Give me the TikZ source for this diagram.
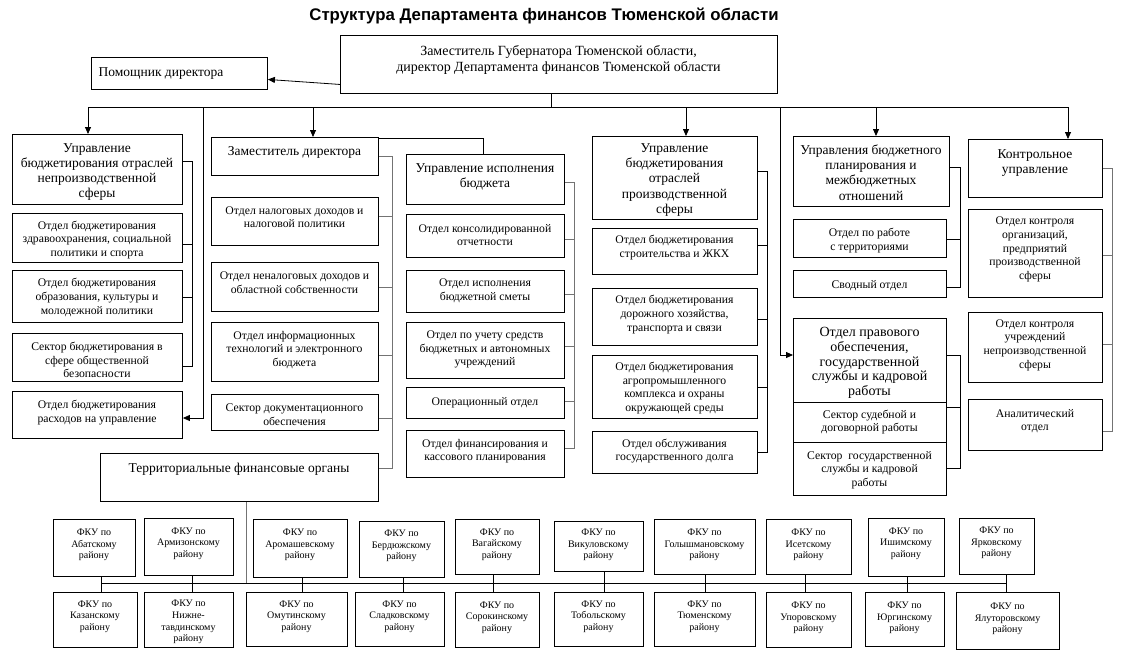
\documentclass[tikz,border=0pt]{standalone}
\usepackage{fontspec}
\setmainfont{Liberation Serif}
\setsansfont{Liberation Sans}
\usetikzlibrary{arrows.meta}
\tikzset{
  box/.style={draw, line width=0.9pt, inner sep=0pt},
  ln/.style={line width=0.8pt},
  gln/.style={line width=0.8pt, draw=black!55},
  arr/.style={line width=0.8pt, -{Triangle[length=7pt,width=6pt]}},
  tx/.style={align=center, inner sep=0pt, yshift=-2pt},
  hd/.style={tx, font=\fontsize{13.5}{15.2}\selectfont},
  dr/.style={tx, font=\fontsize{14}{16}\selectfont},
  pv/.style={tx, font=\fontsize{14}{14.6}\selectfont},
  sm/.style={tx, font=\fontsize{11.7}{13.6}\selectfont, yshift=0.5pt},
  fk/.style={tx, font=\fontsize{10}{11.6}\selectfont},
  ttl/.style={font=\fontsize{16.8}{19}\selectfont\sffamily\bfseries, inner sep=0pt}
}
% name, x1, y1, x2, y2, text x offset, text y, text style, text
\newcommand\myboxo[9]{%
  \pgfmathsetmacro\mbw{#4-#2}\pgfmathsetmacro\mbh{#5-#3}\pgfmathsetmacro\mbcx{(#2+#4)/2+#6}%
  \node[box, minimum width=\mbw pt, minimum height=\mbh pt, anchor=north west] (#1) at (#2,#3) {};
  \node[#8] (#1-t) at (\mbcx,#7) {#9};}
% name, x1, y1, x2, y2, text y, text style, text
\newcommand\mybox[8]{\myboxo{#1}{#2}{#3}{#4}{#5}{0}{#6}{#7}{#8}}
\begin{document}
\begin{tikzpicture}[x=1pt,y=-1pt]
\useasboundingbox (0,0) rectangle (1125,665);
\fill[white] (0,0) rectangle (1125,665);

\node[ttl] (title) at (544,16) {Структура Департамента финансов Тюменской области};

% top
\mybox{dir}{340}{35}{777}{93}{58}{dr}{Заместитель Губернатора Тюменской области,\\ директор Департамента финансов Тюменской области}
\myboxo{pom}{91}{57}{267}{89}{-18}{72}{hd}{Помощник директора}

% column 1
\mybox{ubn}{12}{134}{182}{204}{170}{hd}{Управление\\ бюджетирования отраслей\\ непроизводственной\\ сферы}
\mybox{zdr}{12}{213}{182}{262}{238.5}{sm}{Отдел бюджетирования\\ здравоохранения,  социальной\\ политики и спорта}
\mybox{obr}{12}{270}{182}{322}{296}{sm}{Отдел бюджетирования\\ образования, культуры и\\ молодежной политики}
\mybox{bez}{12}{333}{182}{381}{358.5}{sm}{Сектор бюджетирования в\\ сфере общественной\\ безопасности}
\mybox{ras}{12}{391}{182}{438}{411}{sm}{Отдел бюджетирования\\ расходов на управление}

% column 2
\mybox{zam}{211}{137}{378}{175}{150}{hd}{Заместитель директора}
\mybox{nal}{211}{197}{378}{245}{215.5}{sm}{Отдел налоговых доходов и\\ налоговой политики}
\mybox{nenal}{211}{262}{378}{311}{281}{sm}{Отдел неналоговых доходов и\\ областной собственности}
\mybox{inf}{211}{322}{378}{381}{348.5}{sm}{Отдел информационных\\ технологий и электронного\\ бюджета}
\mybox{doc}{211}{394}{378}{430}{413}{sm}{Сектор документационного\\ обеспечения}
\mybox{tfo}{100}{453}{378}{501}{467}{hd}{Территориальные финансовые органы}

% column 3
\mybox{uib}{406}{154}{564}{204}{175}{hd}{Управление исполнения\\ бюджета}
\mybox{kons}{406}{214}{564}{257}{233.5}{sm}{Отдел консолидированной\\ отчетности}
\mybox{smet}{406}{270}{564}{312}{289.5}{sm}{Отдел исполнения\\ бюджетной сметы}
\mybox{uch}{406}{322}{564}{378}{348}{sm}{Отдел по учету средств\\ бюджетных и автономных\\ учреждений}
\mybox{oper}{406}{387}{564}{418}{401}{sm}{Операционный отдел}
\mybox{fin}{406}{430}{564}{477}{449.5}{sm}{Отдел финансирования и\\ кассового планирования}

% column 4
\mybox{ubp}{592}{136}{757}{219}{178}{hd}{Управление\\ бюджетирования\\ отраслей\\ производственной\\ сферы}
\mybox{str}{592}{228}{757}{274}{246}{sm}{Отдел бюджетирования\\ строительства и ЖКХ}
\mybox{dor}{592}{288}{757}{345}{313}{sm}{Отдел бюджетирования\\ дорожного хозяйства,\\ транспорта и связи}
\mybox{agr}{592}{355}{757}{418}{386.5}{sm}{Отдел бюджетирования\\ агропромышленного\\ комплекса и охраны\\ окружающей среды}
\mybox{dolg}{592}{431}{757}{473}{449.5}{sm}{Отдел обслуживания\\ государственного долга}

% column 5
\mybox{ubpl}{793}{136}{949}{206}{170.5}{hd}{Управления бюджетного\\ планирования и\\ межбюджетных\\ отношений}
\mybox{terr}{793}{219}{946}{257}{239}{sm}{Отдел по работе\\ с территориями}
\mybox{svod}{793}{270}{946}{297}{284}{sm}{Сводный отдел}
\mybox{prav}{793}{318}{946}{402}{361}{pv}{Отдел правового\\ обеспечения,\\ государственной\\ службы и кадровой\\ работы}
\mybox{sud}{793}{402}{946}{442}{420.5}{sm}{Сектор судебной и\\ договорной работы}
\mybox{gos}{793}{442}{946}{495}{468.5}{sm}{Сектор~ государственной\\ службы и кадровой\\ работы}

% column 6
\mybox{ku}{968}{139}{1102}{197}{161}{hd}{Контрольное\\ управление}
\mybox{korg}{968}{209}{1102}{297}{248}{sm}{Отдел контроля\\ организаций,\\ предприятий\\ производственной\\ сферы}
\mybox{kuch}{968}{312}{1102}{382}{343.5}{sm}{Отдел контроля\\ учреждений\\ непроизводственной\\ сферы}
\mybox{anal}{968}{399}{1102}{450}{419.5}{sm}{Аналитический\\ отдел}

% FKU top row
\mybox{f1}{53}{519}{135}{576}{543}{fk}{ФКУ по\\ Абатскому\\ району}
\mybox{f2}{144}{518}{233}{575}{541.5}{fk}{ФКУ по\\ Армизонскому\\ району}
\mybox{f3}{253}{519}{347}{577}{543}{fk}{ФКУ по\\ Аромашевскому\\ району}
\mybox{f4}{359}{521}{444}{577}{544}{fk}{ФКУ по\\ Бердюжскому\\ району}
\mybox{f5}{455}{519}{539}{574}{542.5}{fk}{ФКУ по\\ Вагайскому\\ району}
\mybox{f6}{554}{521}{643}{571}{543}{fk}{ФКУ по\\ Викуловскому\\ району}
\mybox{f7}{654}{519}{755}{574}{543}{fk}{ФКУ по\\ Голышмановскому\\ району}
\mybox{f8}{766}{519}{851}{574}{543}{fk}{ФКУ по\\ Исетскому\\ району}
\mybox{f9}{868}{518}{944}{576}{541.5}{fk}{ФКУ по\\ Ишимскому\\ району}
\mybox{f10}{959}{518}{1034}{574}{541}{fk}{ФКУ по\\ Ярковскому\\ району}
% FKU bottom row
\mybox{g1}{53}{592}{137}{647}{614.5}{fk}{ФКУ по\\ Казанскому\\ району}
\mybox{g2}{144}{592}{233}{647}{620}{fk}{ФКУ по\\ Нижне-\\ тавдинскому\\ району}
\mybox{g3}{246}{592}{347}{646}{614.5}{fk}{ФКУ по\\ Омутинскому\\ району}
\mybox{g4}{355}{592}{444}{646}{614.5}{fk}{ФКУ по\\ Сладковскому\\ району}
\mybox{g5}{455}{592}{539}{647}{615.5}{fk}{ФКУ по\\ Сорокинскому\\ району}
\mybox{g6}{554}{592}{643}{646}{614.5}{fk}{ФКУ по\\ Тобольскому\\ району}
\mybox{g7}{654}{592}{755}{646}{614.5}{fk}{ФКУ по\\ Тюменскому\\ району}
\mybox{g8}{766}{592}{851}{647}{616}{fk}{ФКУ по\\ Упоровскому\\ району}
\mybox{g9}{865}{592}{944}{646}{616}{fk}{ФКУ по\\ Юргинскому\\ району}
\mybox{g10}{956}{592}{1059}{649}{617}{fk}{ФКУ по\\ Ялуторовскому\\ району}

% ---- connectors ----
\coordinate (bL) at (88,107);
\coordinate (bR) at (1068,107);
\coordinate (bC) at (551,107);
\coordinate (b203) at (203,107);
\coordinate (b313) at (313,107);
\coordinate (b686) at (686,107);
\coordinate (b780) at (780,107);
\coordinate (b876) at (876,107);

\draw[arr] ([yshift=-20pt]dir.west) -- ([yshift=-6pt]pom.east);
\draw[ln] (dir.south -| bC) -- (bC);
\draw[ln] (bL) -- (bR);
\draw[arr] (bL) -- (bL |- ubn.north);
\draw[arr] (b313) -- (b313 |- zam.north);
\draw[arr] (b686) -- (b686 |- ubp.north);
\draw[arr] (b876) -- (b876 |- ubpl.north);
\draw[arr] (bR) -- (bR |- ku.north);
\draw[arr] (b203) |- (ras.east |- 0,418);
\draw[arr] (b780) |- (prav.west |- 0,355);

% column 1 bracket
\draw[ln] (ubn.east |- 0,161) -| (192,366) -- (bez.east |- 0,366);
\draw[ln] (zdr.east |- 0,244) -- (192,244);
\draw[ln] (obr.east |- 0,297) -- (192,297);

% column 2
\draw[ln] (zam.east |- 0,138.5) -| (uib.north -| 483,0);
\draw[gln] (zam.east |- 0,156) -| (392,468) -- (tfo.east |- 0,468);
\draw[gln] (nal.east |- 0,216) -- (392,216);
\draw[gln] (nenal.east |- 0,287) -- (392,287);
\draw[gln] (inf.east |- 0,355) -- (392,355);
\draw[gln] (doc.east |- 0,418) -- (392,418);

% column 3
\draw[gln] (uib.east |- 0,182) -| (574,448) -- (fin.east |- 0,448);
\draw[gln] (kons.east |- 0,239) -- (574,239);
\draw[gln] (smet.east |- 0,294) -- (574,294);
\draw[gln] (uch.east |- 0,346) -- (574,346);
\draw[gln] (oper.east |- 0,401) -- (574,401);

% column 4
\draw[ln] (ubp.east |- 0,171) -| (767,452) -- (dolg.east |- 0,452);
\draw[ln] (str.east |- 0,245) -- (767,245);
\draw[ln] (dor.east |- 0,319) -- (767,319);
\draw[ln] (agr.east |- 0,387) -- (767,387);

% column 5
\draw[ln] (ubpl.east |- 0,167) -| (960,287) -- (svod.east |- 0,287);
\draw[ln] (terr.east |- 0,239) -- (960,239);
\draw[ln] (prav.east |- 0,355) -| (960,468) -- (gos.east |- 0,468);
\draw[ln] (sud.east |- 0,407) -- (960,407);

% column 6
\draw[gln] (ku.east |- 0,168) -| (1112,431) -- (anal.east |- 0,431);
\draw[gln] (korg.east |- 0,255) -- (1112,255);
\draw[gln] (kuch.east |- 0,344) -- (1112,344);

% territorial bodies
\coordinate (tb) at (246,583);
\draw[gln] (tfo.south -| tb) -- (tb);
\draw[ln] (101,583) coordinate (tL) -- (1006,583) coordinate (tR);
\draw[ln] (f1.south -| 101,0) -- (g1.north -| 101,0);
\draw[ln] (f2.south -| 192,0) -- (g2.north -| 192,0);
\draw[ln] (f3.south -| 302,0) -- (g3.north -| 302,0);
\draw[ln] (f4.south -| 403,0) -- (g4.north -| 403,0);
\draw[ln] (f5.south -| 493,0) -- (g5.north -| 493,0);
\draw[ln] (f6.south -| 604,0) -- (g6.north -| 604,0);
\draw[ln] (f7.south -| 705,0) -- (g7.north -| 705,0);
\draw[ln] (f8.south -| 805,0) -- (g8.north -| 805,0);
\draw[ln] (f9.south -| 907,0) -- (g9.north -| 907,0);
\draw[ln] (f10.south -| 1006,0) -- (g10.north -| 1006,0);
\end{tikzpicture}
\end{document}
